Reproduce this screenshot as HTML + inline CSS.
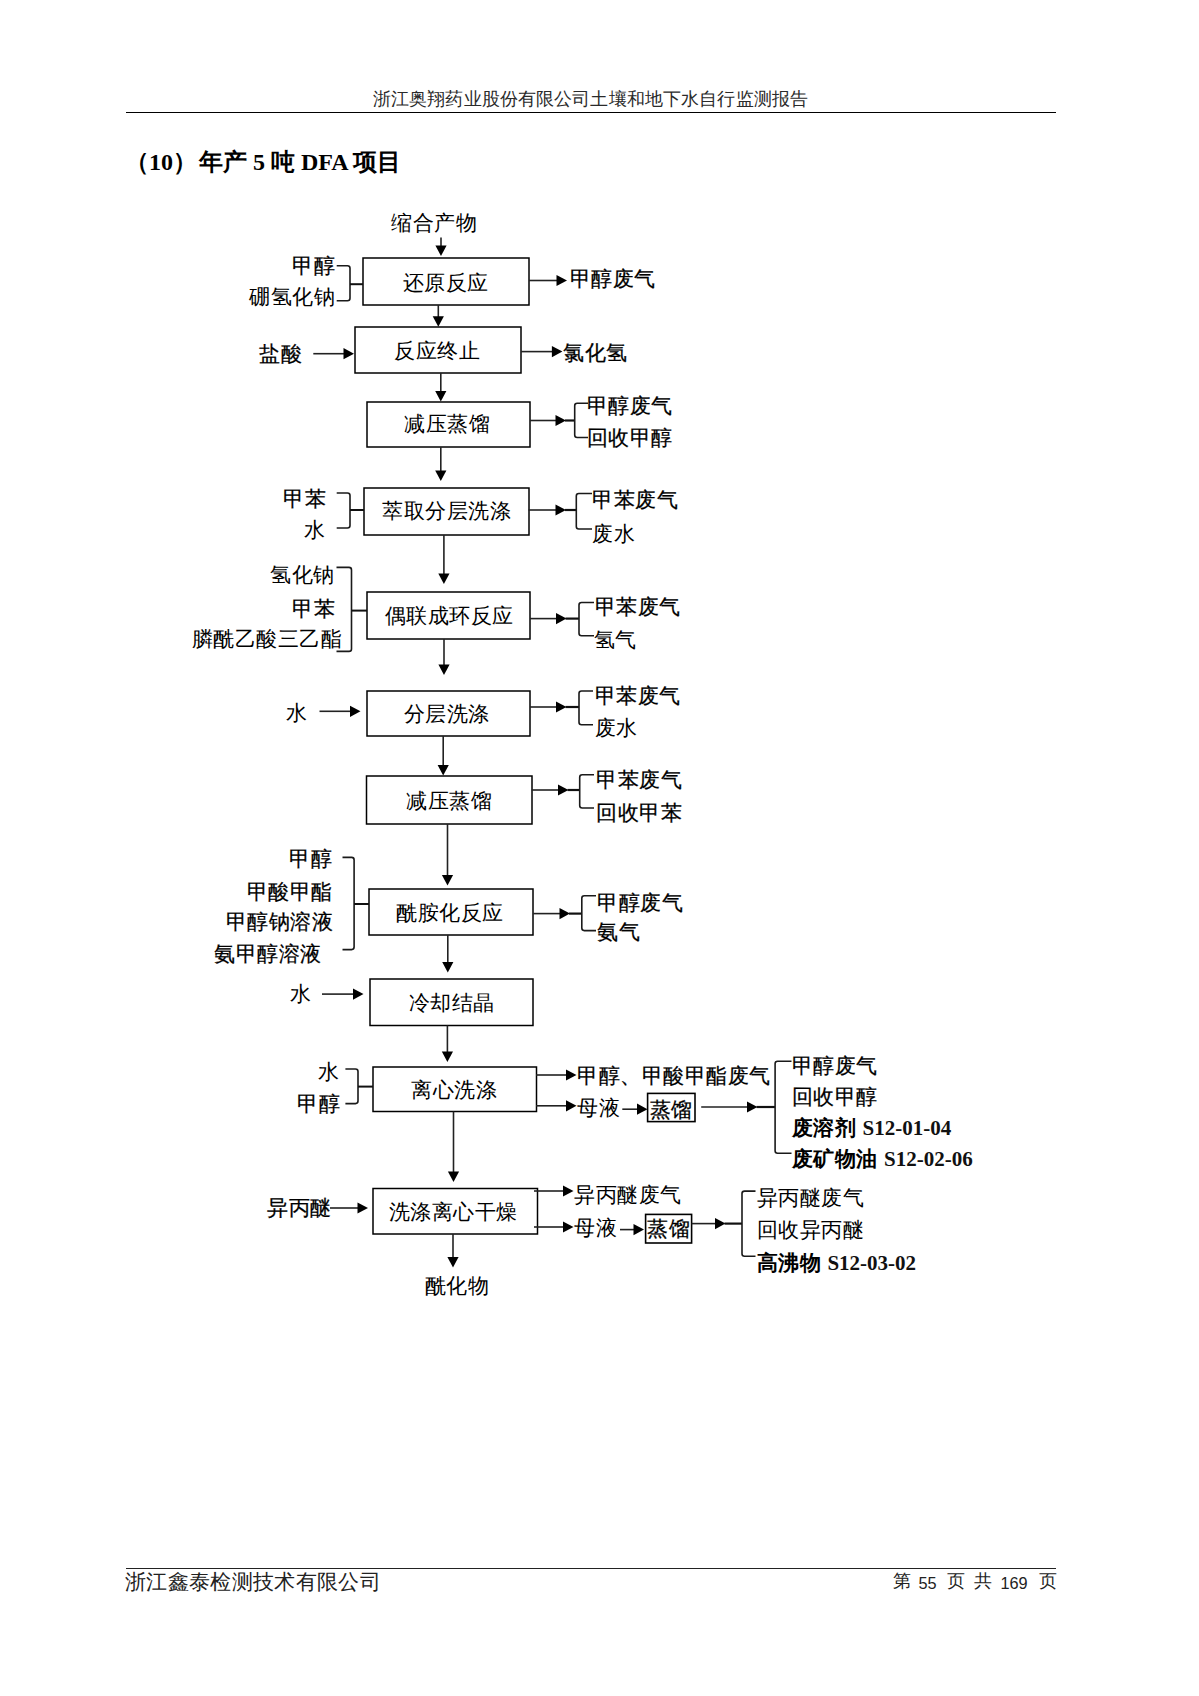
<!DOCTYPE html>
<html><head><meta charset="utf-8"><title>DFA</title>
<style>
html,body{margin:0;padding:0;background:#fff;}
body{width:1199px;height:1696px;position:relative;overflow:hidden;font-family:"Liberation Serif",serif;color:#000;}
.hdr{position:absolute;left:0;width:1181px;top:89.5px;text-align:center;font-size:18px;letter-spacing:0.13px;line-height:1;color:#2a2a2a;white-space:nowrap;}
.hl{position:absolute;left:125.5px;width:930.5px;top:111.6px;height:1.6px;background:#000;}
.title{position:absolute;left:125px;top:149.5px;font-weight:bold;font-size:24px;line-height:1;white-space:nowrap;color:#000;}
.fl{position:absolute;left:125.5px;width:930.5px;top:1567.7px;height:1.3px;background:#222;}
.ftl{position:absolute;left:125px;top:1572px;font-size:21px;letter-spacing:0.32px;line-height:1;color:#222;white-space:nowrap;}
.fr{position:absolute;top:1572.5px;font-size:17.5px;line-height:1;color:#222;white-space:nowrap;}
.fr.n{font-family:"Liberation Sans",sans-serif;font-size:16.3px;top:1574.5px;}
.t{position:absolute;font-family:"Liberation Sans",sans-serif;font-size:21px;line-height:1;white-space:nowrap;color:#000;letter-spacing:0.5px;-webkit-text-stroke:0.25px #000;}
.t.b{font-weight:bold;-webkit-text-stroke:0;}
.t.th{-webkit-text-stroke:0;}
.t .s{font-family:"Liberation Serif",serif;color:#111;letter-spacing:0;}
svg{position:absolute;left:0;top:0;}
</style></head><body>
<div class="hdr">浙江奥翔药业股份有限公司土壤和地下水自行监测报告</div>
<div class="hl"></div>
<div class="title">（10）<span style="margin-left:2px">年产 5 吨 DFA 项目</span></div>
<svg width="1199" height="1696" viewBox="0 0 1199 1696">
<rect x="363" y="258" width="166" height="47" fill="none" stroke="#000" stroke-width="1.5"/>
<rect x="355" y="327" width="166" height="46" fill="none" stroke="#000" stroke-width="1.5"/>
<rect x="367" y="402" width="163" height="45" fill="none" stroke="#000" stroke-width="1.5"/>
<rect x="364" y="488" width="165" height="47" fill="none" stroke="#000" stroke-width="1.5"/>
<rect x="367" y="592" width="163" height="47" fill="none" stroke="#000" stroke-width="1.5"/>
<rect x="367" y="691" width="163" height="45" fill="none" stroke="#000" stroke-width="1.5"/>
<rect x="366.5" y="776" width="165.5" height="48" fill="none" stroke="#000" stroke-width="1.5"/>
<rect x="369" y="889" width="164" height="46" fill="none" stroke="#000" stroke-width="1.5"/>
<rect x="370" y="979" width="163" height="46.5" fill="none" stroke="#000" stroke-width="1.5"/>
<rect x="373" y="1067" width="163.5" height="44.5" fill="none" stroke="#000" stroke-width="1.5"/>
<rect x="373" y="1188.5" width="164.5" height="45.5" fill="none" stroke="#000" stroke-width="1.5"/>
<rect x="647.6" y="1093.4" width="47.4" height="28.2" fill="none" stroke="#000" stroke-width="1.6"/>
<rect x="645.6" y="1214.4" width="46" height="28.6" fill="none" stroke="#000" stroke-width="1.6"/>
<line x1="441" y1="237.5" x2="441" y2="246.5" stroke="#222" stroke-width="1.6"/>
<path d="M435.4 245.5L446.6 245.5L441 256Z" fill="#000"/>
<line x1="438.3" y1="305" x2="438.3" y2="317.2" stroke="#222" stroke-width="1.6"/>
<path d="M432.7 316.2L443.9 316.2L438.3 326.7Z" fill="#000"/>
<line x1="440.8" y1="373" x2="440.8" y2="392" stroke="#222" stroke-width="1.6"/>
<path d="M435.2 391L446.4 391L440.8 401.5Z" fill="#000"/>
<line x1="440.8" y1="447" x2="440.8" y2="471.5" stroke="#222" stroke-width="1.6"/>
<path d="M435.2 470.5L446.4 470.5L440.8 481Z" fill="#000"/>
<line x1="443.9" y1="535" x2="443.9" y2="574.5" stroke="#222" stroke-width="1.6"/>
<path d="M438.3 573.5L449.5 573.5L443.9 584Z" fill="#000"/>
<line x1="444" y1="639" x2="444" y2="665.5" stroke="#222" stroke-width="1.6"/>
<path d="M438.4 664.5L449.6 664.5L444 675Z" fill="#000"/>
<line x1="443.2" y1="736" x2="443.2" y2="766" stroke="#222" stroke-width="1.6"/>
<path d="M437.6 765L448.8 765L443.2 775.5Z" fill="#000"/>
<line x1="447.5" y1="824" x2="447.5" y2="876" stroke="#222" stroke-width="1.6"/>
<path d="M441.9 875L453.1 875L447.5 885.5Z" fill="#000"/>
<line x1="447.8" y1="935" x2="447.8" y2="963" stroke="#222" stroke-width="1.6"/>
<path d="M442.2 962L453.4 962L447.8 972.5Z" fill="#000"/>
<line x1="447.4" y1="1025.5" x2="447.4" y2="1052.5" stroke="#222" stroke-width="1.6"/>
<path d="M441.8 1051.5L453 1051.5L447.4 1062Z" fill="#000"/>
<line x1="453.5" y1="1111.5" x2="453.5" y2="1172.5" stroke="#222" stroke-width="1.6"/>
<path d="M447.9 1171.5L459.1 1171.5L453.5 1182Z" fill="#000"/>
<line x1="453" y1="1234" x2="453" y2="1258" stroke="#222" stroke-width="1.6"/>
<path d="M447.4 1257L458.6 1257L453 1267.5Z" fill="#000"/>
<line x1="529" y1="280.5" x2="557.5" y2="280.5" stroke="#222" stroke-width="1.6"/>
<path d="M556.5 274.9L556.5 286.1L567 280.5Z" fill="#000"/>
<line x1="313.3" y1="353.7" x2="344.5" y2="353.7" stroke="#222" stroke-width="1.6"/>
<path d="M343.5 348.1L343.5 359.3L354 353.7Z" fill="#000"/>
<line x1="521" y1="351.6" x2="552.9" y2="351.6" stroke="#222" stroke-width="1.6"/>
<path d="M551.9 346L551.9 357.2L562.4 351.6Z" fill="#000"/>
<line x1="530" y1="420.5" x2="556.5" y2="420.5" stroke="#222" stroke-width="1.6"/>
<path d="M555.5 414.9L555.5 426.1L566 420.5Z" fill="#000"/>
<line x1="565" y1="420.5" x2="575" y2="420.5" stroke="#111" stroke-width="2.2"/>
<line x1="528.6" y1="510" x2="556.5" y2="510" stroke="#222" stroke-width="1.6"/>
<path d="M555.5 504.4L555.5 515.6L566 510Z" fill="#000"/>
<line x1="565" y1="510" x2="576.5" y2="510" stroke="#111" stroke-width="2.2"/>
<line x1="530" y1="618.6" x2="557" y2="618.6" stroke="#222" stroke-width="1.6"/>
<path d="M556 613L556 624.2L566.5 618.6Z" fill="#000"/>
<line x1="565.5" y1="618.6" x2="579" y2="618.6" stroke="#111" stroke-width="2.2"/>
<line x1="319.5" y1="711.3" x2="351" y2="711.3" stroke="#222" stroke-width="1.6"/>
<path d="M350 705.7L350 716.9L360.5 711.3Z" fill="#000"/>
<line x1="530" y1="707" x2="557" y2="707" stroke="#222" stroke-width="1.6"/>
<path d="M556 701.4L556 712.6L566.5 707Z" fill="#000"/>
<line x1="565.5" y1="707" x2="579" y2="707" stroke="#111" stroke-width="2.2"/>
<line x1="531.7" y1="790" x2="559" y2="790" stroke="#222" stroke-width="1.6"/>
<path d="M558 784.4L558 795.6L568.5 790Z" fill="#000"/>
<line x1="567.5" y1="790" x2="580" y2="790" stroke="#111" stroke-width="2.2"/>
<line x1="533.2" y1="913.6" x2="560.5" y2="913.6" stroke="#222" stroke-width="1.6"/>
<path d="M559.5 908L559.5 919.2L570 913.6Z" fill="#000"/>
<line x1="569" y1="913.6" x2="582" y2="913.6" stroke="#111" stroke-width="2.2"/>
<line x1="322" y1="994.1" x2="354" y2="994.1" stroke="#222" stroke-width="1.6"/>
<path d="M353 988.5L353 999.7L363.5 994.1Z" fill="#000"/>
<line x1="536" y1="1075" x2="567" y2="1075" stroke="#222" stroke-width="1.6"/>
<path d="M566 1069.4L566 1080.6L576.5 1075Z" fill="#000"/>
<line x1="536" y1="1105.8" x2="567" y2="1105.8" stroke="#222" stroke-width="1.6"/>
<path d="M566 1100.2L566 1111.4L576.5 1105.8Z" fill="#000"/>
<line x1="622.3" y1="1109.2" x2="638" y2="1109.2" stroke="#222" stroke-width="1.6"/>
<path d="M637 1103.6L637 1114.8L647.5 1109.2Z" fill="#000"/>
<line x1="701.2" y1="1107" x2="748" y2="1107" stroke="#222" stroke-width="1.6"/>
<path d="M747 1101.4L747 1112.6L757.5 1107Z" fill="#000"/>
<line x1="756.5" y1="1107" x2="775" y2="1107" stroke="#111" stroke-width="2.2"/>
<line x1="330" y1="1208" x2="358.5" y2="1208" stroke="#222" stroke-width="1.6"/>
<path d="M357.5 1202.4L357.5 1213.6L368 1208Z" fill="#000"/>
<line x1="534" y1="1191" x2="564" y2="1191" stroke="#222" stroke-width="1.6"/>
<path d="M563 1185.4L563 1196.6L573.5 1191Z" fill="#000"/>
<line x1="534" y1="1227" x2="564" y2="1227" stroke="#222" stroke-width="1.6"/>
<path d="M563 1221.4L563 1232.6L573.5 1227Z" fill="#000"/>
<line x1="620" y1="1229.6" x2="634.5" y2="1229.6" stroke="#222" stroke-width="1.6"/>
<path d="M633.5 1224L633.5 1235.2L644 1229.6Z" fill="#000"/>
<line x1="691.6" y1="1223.6" x2="716" y2="1223.6" stroke="#222" stroke-width="1.6"/>
<path d="M715 1218L715 1229.2L725.5 1223.6Z" fill="#000"/>
<line x1="724.5" y1="1223.6" x2="742" y2="1223.6" stroke="#111" stroke-width="2.2"/>
<path d="M336.7 265.8H347.5Q350 265.8 350 268.3V298.3Q350 300.8 347.5 300.8H336.7" fill="none" stroke="#1a1a1a" stroke-width="1.6"/>
<path d="M350 284.2H363" fill="none" stroke="#111" stroke-width="2"/>
<path d="M336.7 493H347.5Q350 493 350 495.5V525.5Q350 528 347.5 528H336.7" fill="none" stroke="#1a1a1a" stroke-width="1.6"/>
<path d="M350 510H364" fill="none" stroke="#111" stroke-width="2"/>
<path d="M336.5 567.4H349Q351.5 567.4 351.5 569.9V648.9Q351.5 651.4 349 651.4H336.5" fill="none" stroke="#1a1a1a" stroke-width="1.6"/>
<path d="M351.5 610.6H367" fill="none" stroke="#111" stroke-width="2"/>
<path d="M342.5 857.4H351.6Q354.1 857.4 354.1 859.9V947.1Q354.1 949.6 351.6 949.6H342.5" fill="none" stroke="#1a1a1a" stroke-width="1.6"/>
<path d="M354.1 904H369" fill="none" stroke="#111" stroke-width="2"/>
<path d="M345.4 1069H355.5Q358 1069 358 1071.5V1101.1Q358 1103.6 355.5 1103.6H345.4" fill="none" stroke="#1a1a1a" stroke-width="1.6"/>
<path d="M358 1086.6H373" fill="none" stroke="#111" stroke-width="2"/>
<path d="M588 403.3H577.2Q574.7 403.3 574.7 405.8V435Q574.7 437.5 577.2 437.5H588" fill="none" stroke="#1a1a1a" stroke-width="1.6"/>
<path d="M592 493.5H578.8Q576.3 493.5 576.3 496V526.5Q576.3 529 578.8 529H592" fill="none" stroke="#1a1a1a" stroke-width="1.6"/>
<path d="M594 602.5H581.5Q579 602.5 579 605V633.2Q579 635.7 581.5 635.7H594" fill="none" stroke="#1a1a1a" stroke-width="1.6"/>
<path d="M593 691H581.5Q579 691 579 693.5V722.2Q579 724.7 581.5 724.7H593" fill="none" stroke="#1a1a1a" stroke-width="1.6"/>
<path d="M594 774.7H582.2Q579.7 774.7 579.7 777.2V805.5Q579.7 808 582.2 808H594" fill="none" stroke="#1a1a1a" stroke-width="1.6"/>
<path d="M596 895.8H584.3Q581.8 895.8 581.8 898.3V928.1Q581.8 930.6 584.3 930.6H596" fill="none" stroke="#1a1a1a" stroke-width="1.6"/>
<path d="M791.5 1061.3H777.6Q775.1 1061.3 775.1 1063.8V1150.7Q775.1 1153.2 777.6 1153.2H791.5" fill="none" stroke="#1a1a1a" stroke-width="1.6"/>
<path d="M755.5 1191.1H744.5Q742 1191.1 742 1193.6V1253.7Q742 1256.2 744.5 1256.2H755.5" fill="none" stroke="#1a1a1a" stroke-width="1.6"/>
</svg>
<div class="t th" style="left:391px;top:212.3px">缩合产物</div>
<div class="t" style="left:292px;top:255.3px">甲醇</div>
<div class="t th" style="left:249.3px;top:285.7px">硼氢化钠</div>
<div class="t th" style="left:402.8px;top:271.5px">还原反应</div>
<div class="t" style="left:569.8px;top:268px">甲醇废气</div>
<div class="t" style="left:259px;top:343px">盐酸</div>
<div class="t th" style="left:394px;top:339.8px">反应终止</div>
<div class="t" style="left:563px;top:342px">氯化氢</div>
<div class="t th" style="left:404px;top:413px">减压蒸馏</div>
<div class="t" style="left:586.5px;top:394.8px">甲醇废气</div>
<div class="t" style="left:586.5px;top:427.3px">回收甲醇</div>
<div class="t" style="left:283px;top:488px">甲苯</div>
<div class="t th" style="left:303.7px;top:518.7px">水</div>
<div class="t th" style="left:382px;top:499.8px">萃取分层洗涤</div>
<div class="t" style="left:592.4px;top:489px">甲苯废气</div>
<div class="t th" style="left:592.4px;top:523px">废水</div>
<div class="t th" style="left:270px;top:564px">氢化钠</div>
<div class="t" style="left:292.3px;top:597.9px">甲苯</div>
<div class="t th" style="left:191.8px;top:628.3px">膦酰乙酸三乙酯</div>
<div class="t th" style="left:384.5px;top:604.9px">偶联成环反应</div>
<div class="t" style="left:594.6px;top:596px">甲苯废气</div>
<div class="t th" style="left:593.7px;top:628.6px">氢气</div>
<div class="t th" style="left:286.4px;top:702.4px">水</div>
<div class="t th" style="left:403.9px;top:703.3px">分层洗涤</div>
<div class="t" style="left:594.6px;top:685px">甲苯废气</div>
<div class="t th" style="left:594.6px;top:717px">废水</div>
<div class="t th" style="left:406.2px;top:789.6px">减压蒸馏</div>
<div class="t" style="left:596px;top:769px">甲苯废气</div>
<div class="t" style="left:596px;top:801.5px">回收甲苯</div>
<div class="t" style="left:289px;top:848.2px">甲醇</div>
<div class="t" style="left:246.9px;top:880.9px">甲酸甲酯</div>
<div class="t" style="left:225.9px;top:911.2px">甲醇钠溶液</div>
<div class="t" style="left:214.2px;top:942.8px">氨甲醇溶液</div>
<div class="t th" style="left:396.3px;top:901.9px">酰胺化反应</div>
<div class="t" style="left:597.3px;top:891.7px">甲醇废气</div>
<div class="t" style="left:597px;top:921.4px">氨气</div>
<div class="t th" style="left:289.6px;top:983.4px">水</div>
<div class="t th" style="left:408.8px;top:992.4px">冷却结晶</div>
<div class="t th" style="left:317.5px;top:1060.6px">水</div>
<div class="t" style="left:297.2px;top:1093.3px">甲醇</div>
<div class="t th" style="left:411px;top:1078.6px">离心洗涤</div>
<div class="t" style="left:577.4px;top:1065.4px">甲醇、甲酸甲酯废气</div>
<div class="t th" style="left:577.4px;top:1097px">母液</div>
<div class="t" style="left:649.5px;top:1099.2px">蒸馏</div>
<div class="t" style="left:791.7px;top:1055.3px">甲醇废气</div>
<div class="t" style="left:791.7px;top:1085.6px">回收甲醇</div>
<div class="t" style="left:267.1px;top:1196.7px">异丙醚</div>
<div class="t th" style="left:388.6px;top:1200.6px">洗涤离心干燥</div>
<div class="t th" style="left:574px;top:1184px">异丙醚废气</div>
<div class="t th" style="left:574px;top:1216.6px">母液</div>
<div class="t" style="left:647px;top:1218px">蒸馏</div>
<div class="t th" style="left:756.6px;top:1187.3px">异丙醚废气</div>
<div class="t th" style="left:756.6px;top:1218.5px">回收异丙醚</div>
<div class="t th" style="left:424.8px;top:1274.8px">酰化物</div>
<div class="t b" style="left:791.7px;top:1117px">废溶剂 <span class="s">S12-01-04</span></div>
<div class="t b" style="left:791.7px;top:1147.5px">废矿物油 <span class="s">S12-02-06</span></div>
<div class="t b" style="left:756.6px;top:1251.6px">高沸物 <span class="s">S12-03-02</span></div>
<div class="fl"></div>
<div class="ftl">浙江鑫泰检测技术有限公司</div>
<div class="fr" style="left:892.5px">第</div><div class="fr n" style="left:918.5px">55</div><div class="fr" style="left:947px">页</div><div class="fr" style="left:973.5px">共</div><div class="fr n" style="left:1000.5px">169</div><div class="fr" style="left:1038.5px">页</div>
</body></html>
